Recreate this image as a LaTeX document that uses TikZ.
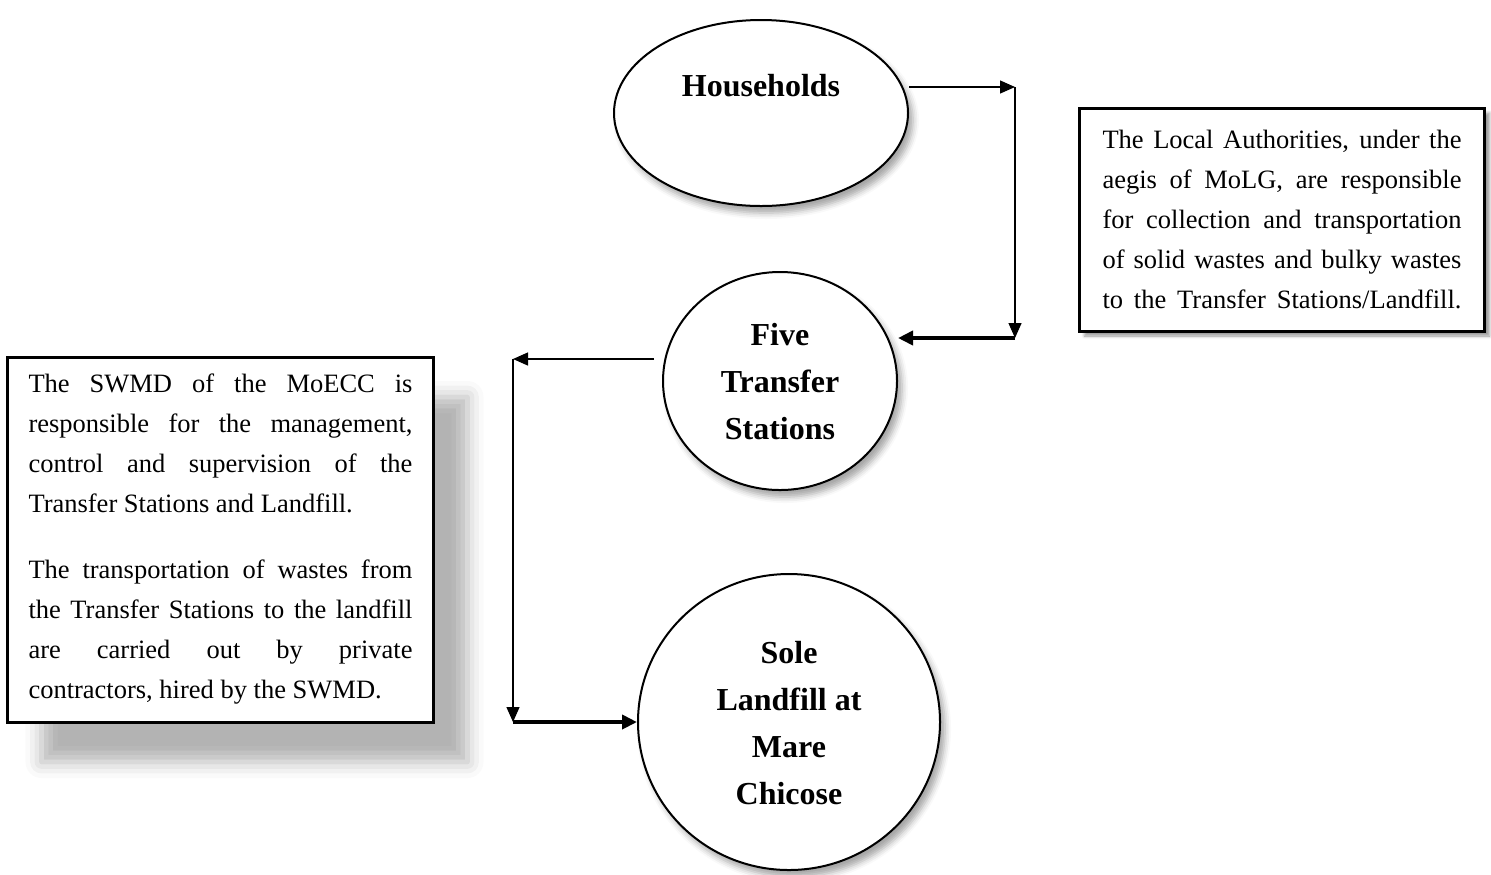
\documentclass[tikz,border=0pt]{standalone}
\usepackage{fontspec}
\setmainfont{Liberation Serif}
\usetikzlibrary{shapes.geometric,shadows.blur,arrows.meta}
\newcommand{\jl}[1]{\leavevmode\hbox to\hsize{\spaceskip=0pt\xspaceskip=0pt #1}}
\begin{document}
\begin{tikzpicture}[x=0.5pt,y=-0.5pt,
  bubble/.style={draw=black,line width=1pt,fill=white,ellipse,inner sep=0pt,
    blur shadow={shadow xshift=2.5pt,shadow yshift=-3.5pt,shadow blur radius=3pt,shadow opacity=35}},
  bold/.style={font=\bfseries\fontsize{16}{23.5}\selectfont,align=center},
  infobox/.style={draw=black,line width=1.5pt,fill=white,align=left,
    font=\fontsize{13.25}{20}\selectfont,inner ysep=0pt},
  thin/.style={line width=0.65pt,-{Triangle[length=7.5pt,width=6.5pt]}},
  thick/.style={line width=2pt,-{Triangle[length=7.5pt,width=7pt]}}]
\useasboundingbox (0,0) rectangle (1491,874);
% nodes
\node[bubble,minimum width=147pt,minimum height=93pt] (hh) at (761,113) {};
\node[bold] (hht) at (761,86) {Households};
\node[bubble,minimum width=117pt,minimum height=109pt] (tr) at (780,381) {};
\node[bold] (trt) at (780,382) {Five\\Transfer\\Stations};
\node[bubble,minimum width=151pt,minimum height=148pt] (lf) at (789,722) {};
\node[bold] (lft) at (789,723) {Sole\\Landfill at\\Mare\\Chicose};
% boxes
\node[infobox,text width=179.5pt,inner xsep=11.5pt,minimum height=111.5pt,
  blur shadow={shadow xshift=2.5pt,shadow yshift=-2.5pt,shadow blur radius=1.5pt,shadow opacity=40}]
  (rb) at (1282,219.5) {%
\jl{The Local Authorities, under the}\\
\jl{aegis of MoLG, are responsible}\\
\jl{for collection and transportation}\\
\jl{of solid wastes and bulky wastes}\\
\jl{to the Transfer Stations/Landfill.}};
\node[infobox,text width=192pt,inner xsep=10.5pt,minimum height=182.5pt,
  blur shadow={shadow xshift=17pt,shadow yshift=-20pt,shadow blur radius=8pt,shadow opacity=30}]
  (lb) at (220.5,539.5) {%
\jl{The SWMD of the MoECC is}\\
\jl{responsible for the management,}\\
\jl{control and supervision of the}\\
\jl{Transfer Stations and Landfill.\hfil}\\[13pt]
\jl{The transportation of wastes from}\\
\jl{the Transfer Stations to the landfill}\\
\jl{are carried out by private}\\
\jl{contractors, hired by the SWMD.\hfil}};
% connector points
\coordinate (c1) at (1015,87);
\coordinate (c2) at (1015,338);
\coordinate (c3) at (513,359);
\coordinate (c4) at (513,722);
% connectors
\draw[thin] (hh.east |- c1) -- (c1);
\draw[thin] (c1) -- (c2);
\draw[thick] (c2) -- (c2 -| tr.east);
\draw[thin] ([xshift=-4pt]tr.west |- c3) -- (c3);
\draw[thin] (c3) -- (c4);
\draw[thick] (c4) -- (lf.west |- c4);
\end{tikzpicture}
\end{document}
